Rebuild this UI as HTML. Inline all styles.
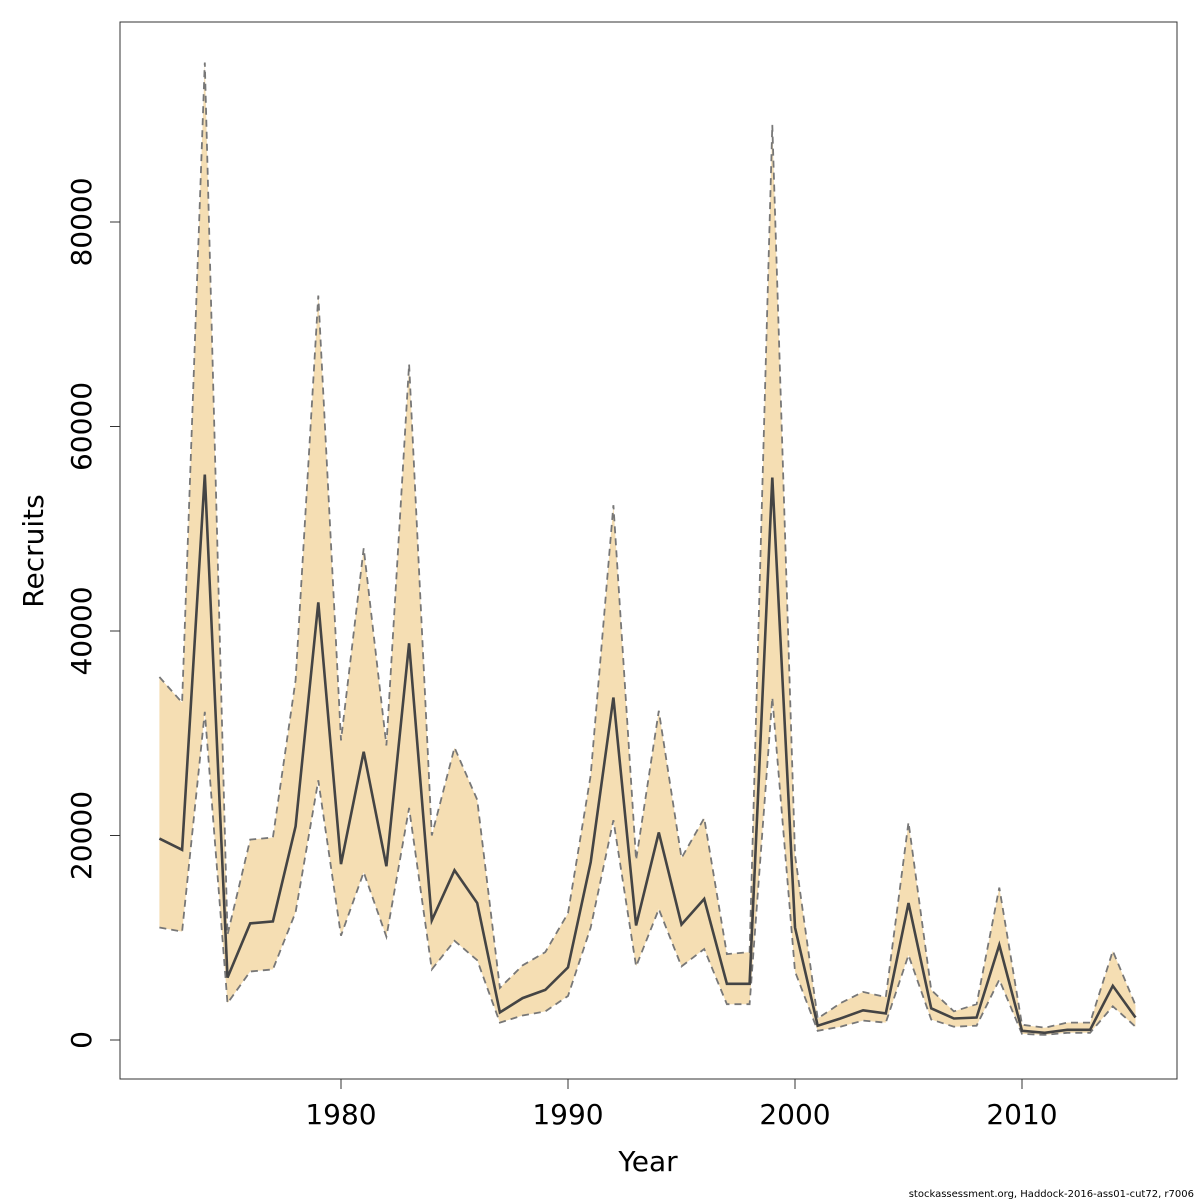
<!DOCTYPE html>
<html><head><meta charset="utf-8"><style>
html,body{margin:0;padding:0;background:#fff;width:1200px;height:1200px;overflow:hidden}
svg{display:block;font-family:"DejaVu Sans","Liberation Sans",sans-serif}
</style></head><body>
<svg id="chart" width="1200" height="1200">
<rect x="120" y="22" width="1057" height="1057" fill="none" stroke="#333" stroke-width="1"/>
<g id="band"></g>
<g id="lines"></g>
<g id="xaxis"></g>
<g id="yaxis"></g>
<text x="648" y="1171" font-size="28" text-anchor="middle" fill="#000">Year</text>
<text transform="translate(43,551) rotate(-90)" font-size="28" text-anchor="middle" fill="#000">Recruits</text>
<text x="1194" y="1197" font-size="10" text-anchor="end" fill="#000">stockassessment.org, Haddock-2016-ass01-cut72, r7006</text>
</svg>
<script>
const years = [1972,1973,1974,1975,1976,1977,1978,1979,1980,1981,1982,1983,1984,1985,1986,1987,1988,1989,1990,1991,1992,1993,1994,1995,1996,1997,1998,1999,2000,2001,2002,2003,2004,2005,2006,2007,2008,2009,2010,2011,2012,2013,2014,2015];
const recruits = [19700,18600,55300,6100,11400,11600,20900,42800,17200,28200,17000,38800,11700,16600,13400,2700,4100,4900,7100,17400,33500,11200,20300,11300,13800,5500,5500,55000,11000,1400,2100,2900,2600,13400,3100,2100,2200,9300,900,700,1000,1000,5300,2200];
const upper = [35500,33000,95600,10300,19600,19800,35200,72800,29300,48100,28800,66100,20000,28600,23500,5100,7300,8600,12400,25900,52300,17600,32200,17800,21700,8400,8600,89500,18100,2100,3600,4700,4200,21300,4900,2800,3500,14900,1500,1200,1700,1700,8700,3400];
const lower = [11000,10600,32100,3600,6700,6900,12500,25400,10200,16400,10100,22700,6900,9700,7800,1700,2400,2800,4300,11000,21500,7200,12800,7200,8900,3500,3500,33500,6700,900,1300,1900,1700,8300,2000,1300,1400,5900,600,500,700,700,3300,1300];
const xTicks = [1980,1990,2000,2010];
const yTicks = [0,20000,40000,60000,80000];

const NS="http://www.w3.org/2000/svg";
function X(v){return 341+(v-1980)*22.7;}
function Y(v){return 1040-v*0.010225;}
function mk(tag,attrs,parent){const e=document.createElementNS(NS,tag);for(const k in attrs)e.setAttribute(k,attrs[k]);parent.appendChild(e);return e;}
const pts=a=>a.map((v,i)=>X(years[i]).toFixed(1)+","+Y(v).toFixed(1));
const band=document.getElementById('band'), lines=document.getElementById('lines');
const poly=mk('polygon',{points:pts(upper).concat(pts(lower).reverse()).join(' '),fill:'#f5deb3',stroke:'none'},band);


const up=mk('polyline',{points:pts(upper).join(' '),fill:'none',stroke:'#777','stroke-width':1.8,'stroke-dasharray':'7,5'},lines);


const lo=mk('polyline',{points:pts(lower).join(' '),fill:'none',stroke:'#777','stroke-width':1.8,'stroke-dasharray':'7,5'},lines);


const md=mk('polyline',{points:pts(recruits).join(' '),fill:'none',stroke:'#444','stroke-width':2.6},lines);


const xa=document.getElementById('xaxis'), ya=document.getElementById('yaxis');
xTicks.forEach(t=>{
  const l=mk('line',{x1:X(t),x2:X(t),y1:1079,y2:1089,stroke:'#333'},xa);
  
  
  const tx=mk('text',{x:X(t),y:1124,'font-size':28,'text-anchor':'middle',fill:'#000'},xa);
  tx.textContent=t;
  
  
});
yTicks.forEach(t=>{
  const l=mk('line',{x1:110,x2:120,y1:Y(t),y2:Y(t),stroke:'#333'},ya);
  
  
  const tx=mk('text',{transform:`translate(91,${Y(t)}) rotate(-90)`,'font-size':28,'text-anchor':'middle',fill:'#000'},ya);
  tx.textContent=t;
  
  
});
</script>
</body></html>
